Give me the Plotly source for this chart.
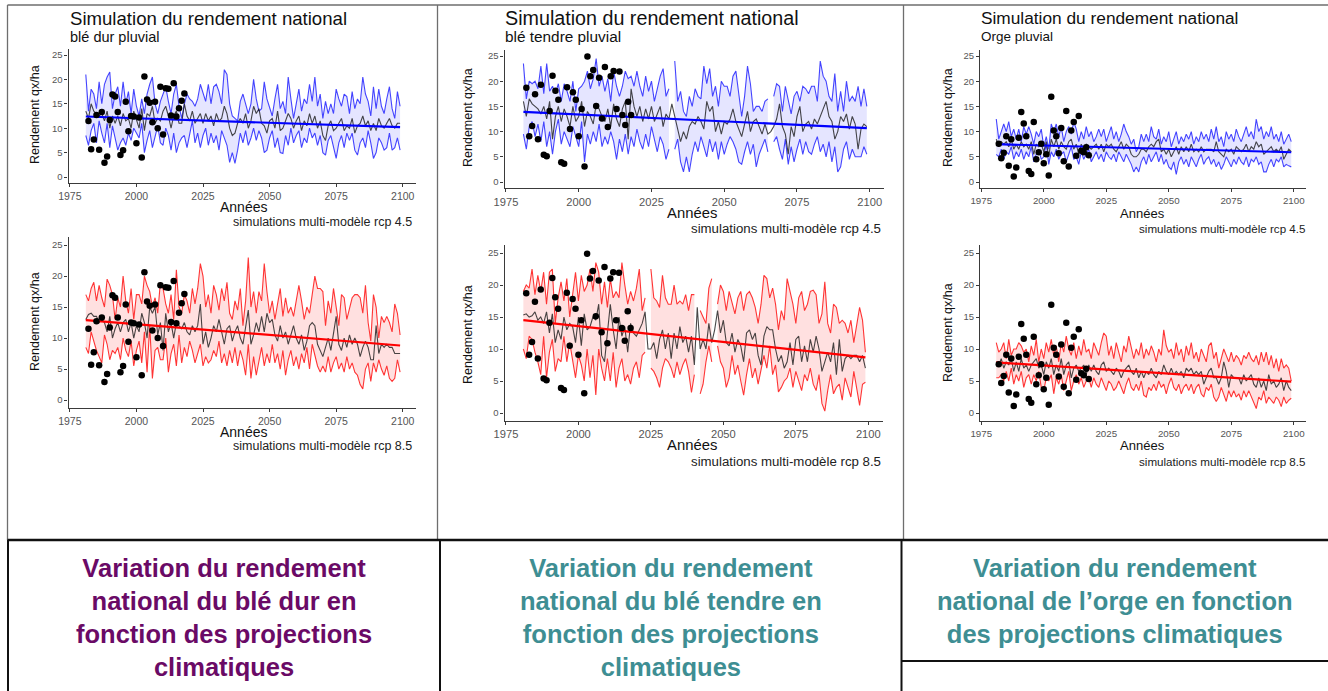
import plotly.graph_objects as go

W, H = 1328, 691

# ---------------- data ----------------
YEARS = list(range(1981, 2100))
OBS_YEARS = list(range(1982, 2019))
TREND_YEARS = [1981, 2099]
X_TICKS = [1975, 2000, 2025, 2050, 2075, 2100]
Y_TICKS = [0, 5, 10, 15, 20, 25]

obs_ble_dur = [11.5, 5.7, 7.7, 12.7, 5.6, 13.3, 2.9, 4.2, 11.7, 16.9,
               16.5, 13.3, 4.5, 5.5, 15.4, 9.4, 12.5, 12.4, 6.9, 12.2,
               4.0, 20.6, 15.9, 15.2, 11.2, 15.4, 10.0, 18.5, 8.7, 18.2,
               18.1, 12.6, 19.2, 12.4, 14.1, 15.6, 17.1]
obs_ble_tendre = [18.7, 9.1, 11.1, 17.4, 8.5, 19.3, 5.4, 5.1, 14.1, 21.1,
                  18.1, 16.3, 3.9, 3.6, 18.8, 10.5, 17.8, 16.3, 9.1, 14.5,
                  3.1, 24.9, 21.0, 22.2, 15.1, 20.7, 12.6, 22.8, 10.9, 21.0,
                  22.0, 14.5, 21.9, 13.3, 11.3, 15.9, 13.3]
obs_orge = [7.6, 4.7, 5.8, 9.1, 3.2, 8.5, 1.1, 2.9, 8.8, 13.9,
            11.6, 9.1, 2.2, 1.6, 11.9, 4.5, 5.9, 7.6, 3.7, 5.5,
            1.3, 16.9, 10.2, 9.1, 5.7, 10.7, 4.1, 14.1, 3.1, 10.2,
            11.9, 5.2, 13.1, 6.2, 5.9, 6.9, 5.3]

# blé dur, rcp 4.5
dur45_hi = [21, 13.5, 18, 17, 14, 19.5, 15, 19, 20.5, 21.5,
            14, 17, 18.5, 14.5, 19.5, 15, 17.5, 13, 18, 14.5,
            12.5, 16, 13, 17, 19, 20.5, 15, 13, 15.5, 17,
            18.5, 15.5, 13, 17, 19, 14.5, 12, 15, 17, 16,
            15.5, 14.5, 16, 19, 17, 15.5, 19, 15, 18.5, 19,
            17.5, 15, 22, 21, 15, 12.5, 12, 11.5, 15.5, 17,
            15, 13, 15, 20, 16, 13.5, 14, 19.5, 16, 14,
            12.5, 16, 19, 14, 15.5, 13, 20.5, 16, 12, 15,
            18, 13.5, 16, 15, 19, 15.5, 20.5, 14.5, 17, 12,
            15.5, 13, 15, 13, 18, 16, 14.5, 17, 16.5, 13,
            17.5, 14, 16, 15, 20.5, 17, 15.5, 12.5, 18.5, 14,
            18, 14.5, 13, 16, 18.5, 14, 12, 17.5, 14.5]
dur45_mid = [13.5, 12, 15, 13.5, 13, 12.5, 13, 11.5, 13.5, 10,
             12.5, 11, 12.5, 10.5, 13, 11.5, 12, 10, 13.5, 11.5,
             10, 14, 9.5, 13, 12.5, 14.5, 11, 12, 11.5, 13.5,
             14.5, 12.5, 10, 12.5, 13.5, 11, 11, 15, 12.5, 11.5,
             13.5, 11, 12, 13, 11, 13, 11.5, 12.5, 10.5, 13,
             11.5, 12, 14.5, 13, 10, 8.5, 9, 11, 12, 11,
             13, 10, 11.5, 14.5, 13, 14, 11, 10.5, 9, 11.5,
             12, 10, 13.5, 9.5, 10, 11.5, 13, 12, 10, 11.5,
             12.5, 9.5, 11.5, 10.5, 13, 11, 12.5, 10, 11.5, 8.5,
             7.5, 10.5, 11.5, 9.5, 10, 11, 12, 9.5, 10.5, 10,
             12, 9, 10.5, 11, 12.5, 10.5, 11.5, 9.5, 11, 9.5,
             12, 10.5, 10, 11, 12, 10.5, 10, 11, 11]
dur45_lo = [8.5, 6.5, 9.5, 11, 7, 11.5, 9, 7, 11, 6,
            10.5, 8, 5.5, 7, 8, 6.5, 9, 7.5, 10, 9,
            8, 11, 5, 7.5, 9.5, 6, 8.5, 10.5, 7, 6.5,
            10, 8.5, 5.5, 9, 5, 7, 8, 8.5, 6, 9,
            11.5, 7, 9, 6, 8.5, 10, 6.5, 9, 7, 8.5,
            5.5, 9.5, 8, 6.5, 3, 5, 2.8, 5.5, 9, 7,
            9.5, 6.5, 8, 10, 7.5, 9.5, 8, 5, 5.5, 8,
            9.5, 6, 8, 5, 4.8, 8.5, 6.5, 10, 7, 8.5,
            9.5, 6, 8, 7, 10, 8, 9, 6.5, 8.5, 5,
            4.5, 7.5, 8.5, 6, 3.8, 7, 8.5, 6, 9, 7.5,
            9, 5.5, 4.5, 7, 8, 6, 9.5, 7, 3.8, 5,
            8, 7, 5.5, 6, 9, 5.5, 6, 8, 5.5]

# blé dur, rcp 8.5
dur85_hi = [17, 16, 18, 19, 16, 18.5, 16.5, 15, 19.5, 18.5,
            17, 13, 16.5, 15, 20, 16, 14, 18, 13, 17,
            17, 15.5, 20, 18.5, 17.5, 15, 16.5, 14, 19, 18,
            15.5, 14, 17, 13, 21, 15, 14, 17, 16, 14,
            18, 15.5, 18, 22, 20, 15, 17, 14, 18.5, 17,
            14.5, 18, 16, 19, 14, 13, 16, 14.5, 18, 12,
            16, 23, 15, 17.5, 14, 17.5, 16, 22, 17.5, 14,
            16, 13, 15.5, 18, 13.5, 16.5, 14, 15, 13.5, 16,
            18.5, 16, 13, 15, 14, 17, 20, 18, 18, 17.5,
            12, 16, 14, 18, 14.5, 12, 17, 16.5, 13, 15,
            16.5, 17, 17, 16.5, 14, 18.5, 12.5, 9.5, 17, 15,
            10, 13.5, 12.5, 13.5, 12.5, 11, 15.5, 14, 10.5]
dur85_mid = [13, 13.8, 14, 13.5, 13.5, 12.5, 13, 12.5, 11, 13.5,
             10, 11.5, 12.5, 11, 12.5, 13, 11, 12.5, 10, 12,
             11, 14, 12.5, 10, 15, 14, 15, 10.5, 12.5, 8,
             14, 11, 12.5, 10, 12.5, 12, 11.5, 12.5, 11, 10.5,
             12, 11, 12, 15.5, 9, 11, 8.5, 10, 12, 11,
             13, 11, 9, 11.5, 12, 9.5, 11, 12, 10, 9,
             11.5, 14.5, 9, 10.5, 12.5, 11, 13.5, 11, 14, 12.5,
             13, 10.5, 9.5, 12, 10, 11, 9, 10.5, 12, 10,
             9, 10.5, 8, 9.5, 12, 12.5, 12, 9, 8, 7,
             8.5, 10, 8, 11, 13.5, 9, 8, 10, 8.5, 10.5,
             9, 10, 9, 7, 8.5, 9.5, 8.5, 6.5, 6.5, 12,
             7.5, 9, 8.5, 9, 8.5, 8.5, 7.5, 7.5, 7.5]
dur85_lo = [8.5, 7.5, 11, 9.5, 8, 7, 6, 10.5, 9, 6.5,
            8, 7.5, 8.5, 6.5, 10, 8, 7, 9.5, 5.5, 8,
            9.5, 6, 11, 4.5, 12, 3.5, 8, 8.5, 6.5, 6.5,
            10, 4.5, 7.5, 9, 5.5, 10.5, 6, 8.5, 7, 9.5,
            8, 6, 7.5, 9, 5.5, 7, 6, 6.5, 8, 7,
            9.5, 6, 7.5, 5.5, 8, 6, 8.5, 5.5, 8, 6.5,
            4, 9, 3.5, 7, 4, 6, 8.5, 5.5, 7.5, 6,
            9, 6, 7.5, 5, 8, 4, 6.5, 8, 5.5, 7,
            5, 7.5, 6, 8.5, 5, 9, 7, 5.5, 4.5, 5.5,
            4.5, 7, 4.5, 6, 7, 5, 6, 4.5, 7, 5,
            6, 4.5, 4, 2.5, 1.8, 5, 6, 3, 6, 4.5,
            6.5, 5, 4, 5.5, 3.5, 3, 3.5, 6.5, 4.5]

# blé tendre, rcp 4.5 (None = missing)
tend45_hi = [23.5, 16.5, 20, 19.5, 20, 18.5, 23, 17.5, 23.5, 18,
             19, 17.5, 19.5, 16, 19.5, 18, 16, 20, 14, 18.5,
             19, 20, 22, 18.5, 20.5, 24.5, 19, 21, 18, 20.5,
             16, 22, 19, 17, 19, 22, 20.5, 21, 19, 22,
             19, 17, 21, 18, 20, 16, 18.5, 21, 22.5, 17,
             18.5, None, 24, 16, 18, 14, 13, 17, 15, 18.5,
             17, 16.5, 23, 19.5, 22.5, 17, 19, 15, 20, 19,
             19, 17, 21, 22, 17.5, 13, 17, 23, 19.5, 14,
             15, 15, 14, 16, 16.5, None, 17, 19.5, 19, 14,
             19, 16.5, 13.5, 17, 18, 16, 19, 18.5, 17.5, 19,
             19, 16, 24, 21, 20, 17, 16, 21.5, 14, 18,
             14, 20, 16, 17, 16, 19, 15, 18.5, 15]
tend45_mid = [16, 13, 16.5, 15.5, 15, 14.5, 13.5, 15, 12.5, 16,
              8.5, 13, 15, 12, 14.5, 13, 11, 15, 12, 13,
              16, 11, 14, 13, 11.5, 15.5, 14.5, 13, 12, 14.5,
              11, 15.5, 12.5, 11, 14.5, 16, 8.5, 18.5, 15, 13,
              15, 12, 14.5, 12.5, 15, 12, 13.5, 15, 11, 13.5,
              12.5, 15.5, 13, 10.5, 8, 10, 8.5, 11, 12, 11.5,
              13, 12, 10.5, 16, 14, 15, 10, 12, 9.5, 12,
              11.5, 12.5, 14.5, 12, 10.5, 9, 11.5, 14, 10, 12,
              12.5, 11, 9.5, 11.5, 9.5, 10, 11, 12.5, 15.5, 11,
              9.5, 5.5, 11, 9, 13, 15, 10, 11.5, 12, 10.5,
              12.5, 11.5, 13, 14.5, 16, 13, 12, 8.5, 10, 13,
              12, 13.5, 10.5, 13, 11.5, 6.5, 10.5, 11.5, 11]
tend45_lo = [9.5, 6.5, 11, 12, 9, 11.5, 8, 12, 7, 10,
             5.5, 10, 12.5, 7.5, 10, 8.5, 7, 11, 9, 7,
             12, 4, 9.5, 7.5, 10, 8, 11.5, 7, 9, 7.5,
             10, 8, 4.5, 8.5, 6, 9.5, 5.5, 9, 7, 10.5,
             8, 6.5, 9.5, 7, 11, 8.5, 6, 9, 7.5, 4.5,
             6.5, None, 6.5, 8.5, 4, 2, 5, 2, 5.5, 8,
             6, 9, 7, 5, 8.5, 6, 8, 4.5, 8, 5.5,
             7.5, 9, 8, 6.5, 4, 3.5, 6, 8, 5.5, 7.5,
             3, 5.5, 7, 8.5, 6, None, 8, 9, 6.5, 4.5,
             8.5, 3.5, 7, 4, 6.5, 8.5, 5.5, 8, 6, 5.5,
             7.5, 9, 6, 7.5, 5, 8, 4, 7, 2, 3,
             6.5, 8, 4.5, 6.5, 5, 5, 5, 7, 5.5]

# blé tendre, rcp 8.5 (None = missing)
tend85_hi = [19, 20, 19.5, 22.5, 18.5, 21.5, 19, 22, 17, 22,
             22.5, 14, 18, 20.5, 17.5, 21, 15, 18.5, 22, 17.5,
             21.5, 19, 20, 22.5, 19, 23.5, 22, 17, 20.5, 16.5,
             21, 18, 19, 18, 23.5, 20, 17, 19, 17.5, 19.5,
             22.5, 16, 18, None, 22.5, 18, 17.5, 16.5, 21.5, 18,
             17, 17, 20, 17, 17.5, 17, 18.5, 16, 18.5, 18.5,
             None, 16, 15, 14, 19.5, 21, None, 17, 20, 19,
             16, 19, 17, 15.5, 18, 19, 16, 18.5, 19, 18,
             16.5, 14, 17, 21.5, 21, 18, 19.5, 17, 13, 16,
             14.5, 21, 19, 17, 14, 18, 19, 16, 17, 19,
             19.2, 18.5, 14, 15.5, 20.5, 14, 12.5, 17, 16.5, 14,
             14.5, 14, 12.5, 14.5, 11, 14, 16.5, 14.5, 9.5]
tend85_mid = [15.3, 15.5, 15, 15.2, 15.8, 14.5, 15, 14, 15.8, 12.5,
              15.5, 11, 13, 11.5, 15, 13, 14, 13.5, 11, 15,
              10.5, 15.5, 13, 13.5, 15, 14.5, 17, 9, 8, 12,
              17, 13, 10, 15, 12, 13.5, 9.5, 14, 12.5, 12,
              13, 14, 15.8, 10, 10, 11, 8.5, 11.5, 13, 10,
              12.5, 8.5, 12.5, 10, 13.5, 11, 12, 9.5, 12, 7.5,
              16.5, 10, 11.5, 10, 14, 11, 13, 16, 12.5, 14.5,
              11, 10.5, 12.5, 9.5, 11.5, 10.5, 8, 12.5, 13, 11.5,
              12.5, 9, 7.5, 12, 13.5, 13, 13, 10, 8, 9,
              7, 8, 11, 7.5, 11.5, 12, 8, 10.5, 8, 11.5,
              9.5, 12, 10, 6.5, 8, 9.5, 8, 11, 6, 11.5,
              6.5, 8.5, 9, 8.5, 9, 9, 8, 9, 7]
tend85_lo = [10, 8.5, 12, 11.5, 9.5, 8, 6, 12, 5.5, 9.5,
             11.5, 6.5, 8.5, 8, 12, 8, 11, 8.5, 5.5, 9,
             7.5, 5, 10, 5.5, 9, 2.8, 10, 7, 5, 8.5,
             5, 9.5, 4, 7, 8.5, 5, 6, 4.5, 7, 8,
             5.5, 9, 9.5, None, 7, 6.5, 5.5, 4, 7, 8.5,
             8, 7, 5.5, 8, 6, 7.5, 8.5, 6.5, 3.2, 6,
             None, 3, 4.5, 8, 10.5, 8, None, 10.5, 8, 7,
             4, 5.5, 9, 6, 7.5, 5, 2.8, 6, 8.5, 5.5,
             7, 4.5, 6.5, 9, 7, 10.5, 6, 7.5, 3.3, 4,
             5, 5.5, 7, 4, 6.5, 5, 3.5, 6, 5, 7,
             4.5, 3.5, 6, 1.5, 0.3, 3.5, 6, 3, 4, 4.5,
             2, 5.5, 4, 2.5, 6.5, 4, 1.2, 4.5, 4.8]

# orge, rcp 4.5
orge45_hi = [12.5, 8.5, 10, 11.5, 10, 12, 9, 10.5, 8.5, 10.5,
             8, 11, 9.5, 11, 9.5, 7.5, 10, 9, 10.5, 7,
             9, 6.5, 11.5, 10, 11.5, 9, 11, 8, 10, 11,
             9.5, 12, 10.5, 8, 10, 8.5, 11, 9, 10, 8,
             9, 10.5, 9, 10.5, 8, 9.5, 11, 8.5, 10, 8,
             9.5, 11.5, 10, 9, 7.5, 8.5, 6, 7, 9.5, 8,
             9.5, 8, 11, 9, 8.5, 10.5, 7.5, 9, 8, 10,
             7, 8.5, 10, 7.5, 9, 8, 9.5, 8.5, 10, 7.5,
             9, 8, 10, 8.5, 9.5, 8, 10.5, 8.5, 11, 8,
             9, 7, 10, 8.5, 9.5, 8, 10.5, 9, 8, 9.5,
             11, 9, 10, 8.5, 12.5, 10, 11, 8.5, 10, 9,
             11, 8.5, 9.5, 8, 10, 7.5, 8.5, 9.5, 8]
orge45_mid = [8.5, 7, 8, 7.5, 8, 7, 8.5, 6.5, 7.5, 6.5,
              8, 7, 7.5, 6.5, 8, 5.5, 7.5, 7, 7.5, 6,
              8, 5, 8.5, 7, 8.5, 6.5, 8, 7, 6.5, 8,
              8.5, 6.5, 7.5, 5.5, 7.5, 6.5, 7.5, 7, 6.5, 7,
              7.5, 6.5, 7.5, 6, 7.5, 7, 7.5, 6.5, 6, 7,
              8, 6.5, 7.5, 7, 5.5, 5, 5, 5.5, 6.5, 6.5,
              6, 7, 7.5, 7, 8, 8.5, 6, 6.5, 5.5, 6.5,
              5, 6, 7, 5.5, 7, 6, 7, 6, 7.5, 6,
              6.5, 6, 7, 6, 6.5, 6.5, 6.5, 6, 8, 6,
              5.5, 5, 6.5, 6, 6.5, 5.5, 7, 6.5, 6, 6.5,
              7.5, 6, 7, 6.5, 8, 7, 7.5, 5.5, 6, 6.5,
              7, 6, 6.5, 6, 7, 4.5, 5.5, 6.5, 6]
orge45_lo = [5.5, 5, 6.5, 4.5, 6, 5.5, 7, 4.5, 6, 5,
             6.5, 4.5, 6, 5, 7, 4, 5.5, 6.5, 4.5, 5,
             7.5, 3.5, 6, 5, 6.5, 4.5, 5.5, 6, 4, 5.5,
             7, 4.5, 5, 3.5, 6, 4.5, 5.5, 6.5, 4, 5,
             6, 4.5, 5.5, 4, 6, 5, 4.5, 5.5, 4, 6,
             5, 4, 5.5, 4.5, 3.5, 2, 3, 2, 4, 5,
             3.5, 5.5, 4, 5, 6, 4, 5.5, 3.5, 4.5, 3,
             2.5, 4, 1.5, 4, 5, 3.5, 4.5, 3, 5, 4,
             3, 4.5, 5.5, 3.5, 4.5, 5, 3.5, 4.5, 3, 4,
             2.5, 3.5, 5, 4, 3, 4.5, 3.5, 5, 4, 3.5,
             5, 3, 4.5, 4, 5, 3.5, 4, 2, 2, 3.5,
             4.5, 3, 4.5, 4, 5, 3, 3.5, 3.2, 3]

# orge, rcp 8.5
orge85_hi = [11, 9.5, 10, 11, 8.5, 11.5, 9, 10, 10, 11,
             10.5, 9.5, 10, 8, 10.5, 9, 11.5, 8, 10, 8.5,
             11, 9.5, 11.5, 9, 10.5, 8, 11, 9.5, 12, 10,
             9, 11, 8.5, 10.5, 9, 11.5, 9.5, 10, 8.5, 11,
             10, 9, 11, 12.5, 12, 9, 10.5, 8.5, 11, 9.5,
             8, 10.5, 9.5, 12, 10, 8.5, 10, 9, 11, 8.5,
             10, 9, 10.5, 9.5, 8, 10, 9, 13, 10.5, 9.5,
             10, 8.5, 11, 9, 10, 8, 10.5, 9, 11, 8.5,
             9.5, 8, 10, 9, 8, 10.5, 11, 8.5, 9.5, 7,
             8.5, 10, 9, 8, 9.5, 8, 9, 8.5, 7.5, 9,
             8.5, 9.5, 8.5, 8, 9, 7.5, 9.5, 8, 9.5, 7.5,
             9, 7, 8.5, 6.5, 8.5, 7, 7.5, 7, 5]
orge85_mid = [8, 7.5, 8.5, 7, 8, 7.5, 8.5, 6.5, 8, 6.5,
              8.5, 7, 7.5, 6.5, 7.5, 8, 8.5, 7, 7.5, 6,
              8, 7, 8.5, 6, 7.5, 6.5, 8.5, 6, 7.5, 8,
              5.5, 7, 7.5, 6.5, 7, 7.5, 6, 7.5, 6.5, 7.5,
              6.5, 6, 7.5, 8, 6.5, 7, 6.5, 6, 7, 6.5,
              5.5, 6.5, 7, 7.5, 6.5, 6, 7, 5.5, 6.5, 5.5,
              6.5, 6, 7, 6, 5.5, 6.5, 6, 7.5, 6.5, 6,
              7, 6, 6.5, 6, 6.5, 5.5, 7, 6.5, 7, 6,
              6.5, 6, 6.5, 4.5, 5.5, 6.5, 7, 5.5, 5.5, 4.5,
              5.5, 8, 6.5, 4, 6, 5.5, 5.5, 5.5, 4.5, 6,
              5, 5.5, 6, 4.5, 4, 5.5, 4, 5, 3.5, 6,
              4.5, 5, 4, 4.5, 5.5, 3.5, 5, 4, 3.5]
orge85_lo = [5.5, 5.5, 6, 5, 6.5, 5, 7, 4.5, 6, 5,
             6.5, 4, 5.5, 6, 4.5, 6, 5, 6.5, 4, 3.5,
             5.5, 5, 6, 3, 5.5, 4.5, 6, 3.5, 5, 6.5,
             3.5, 5, 6, 4.5, 5.5, 4, 5, 5.5, 4, 5.5,
             4.5, 4, 5.5, 4.5, 3.5, 5, 4.5, 3.5, 4, 5,
             4, 3, 4.5, 5.5, 4, 3.5, 4.5, 3.5, 5, 2.8,
             2.5, 4, 3.5, 4.5, 3.5, 5, 4, 4.5, 3, 4.5,
             5.5, 4, 3.5, 4.5, 3, 4, 4.5, 3.5, 4.5, 3,
             4, 4.5, 3, 2.5, 4, 3.5, 4.5, 2.5, 1.8, 2.5,
             4, 3, 1.8, 3.5, 2.5, 3.5, 2.5, 3, 2, 3.5,
             2.5, 3.5, 2.5, 1.5, 0.7, 2.5, 2, 3.5, 1.5, 2.5,
             2, 1.5, 2.5, 2, 1, 2.5, 1.5, 2, 2.3]

trend_dur45 = [12.4, 10.2]
trend_dur85 = [12.9, 8.8]
trend_tend45 = [13.9, 10.7]
trend_tend85 = [14.5, 8.7]
trend_orge45 = [7.5, 5.9]
trend_orge85 = [7.9, 4.9]

TITLE = "Simulation du rendement national"
SUBTITLES = ["blé dur pluvial", "blé tendre pluvial", "Orge pluvial"]
SCENARIOS = ["simulations multi-modèle rcp 4.5", "simulations multi-modèle rcp 8.5"]
CAPTIONS = [
    "Variation du rendement<br>national du blé dur en<br>fonction des projections<br>climatiques",
    "Variation du rendement<br>national du blé tendre en<br>fonction des projections<br>climatiques",
    "Variation du rendement<br>national de l’orge en fonction<br>des projections climatiques",
]

# ---------------- styling / layout helpers ----------------
def fx(px):
    return px / W

def fy(py):
    return 1 - py / H

STYLE = {
    "blue": dict(line="rgba(0,0,255,0.72)", fill="rgba(0,0,255,0.10)", trend="#0000FF"),
    "red": dict(line="rgba(255,0,0,0.78)", fill="rgba(255,0,0,0.12)", trend="#FF0000"),
}

# pixel boxes of each plotting area: (left, right, top, bottom)
panels = [
    dict(col=0, row=0, hi=dur45_hi, mid=dur45_mid, lo=dur45_lo, trend=trend_dur45, obs=obs_ble_dur,
         color="blue", box=(68.5, 415.8, 48.9, 183.1)),
    dict(col=0, row=1, hi=dur85_hi, mid=dur85_mid, lo=dur85_lo, trend=trend_dur85, obs=obs_ble_dur,
         color="red", box=(68.5, 415.8, 237.3, 407.8)),
    dict(col=1, row=0, hi=tend45_hi, mid=tend45_mid, lo=tend45_lo, trend=trend_tend45, obs=obs_ble_tendre,
         color="blue", box=(504.5, 884.0, 49.7, 188.3)),
    dict(col=1, row=1, hi=tend85_hi, mid=tend85_mid, lo=tend85_lo, trend=trend_tend85, obs=obs_ble_tendre,
         color="red", box=(504.5, 882.5, 245.0, 421.0)),
    dict(col=2, row=0, hi=orge45_hi, mid=orge45_mid, lo=orge45_lo, trend=trend_orge45, obs=obs_orge,
         color="blue", box=(980.0, 1306.0, 49.7, 188.3)),
    dict(col=2, row=1, hi=orge85_hi, mid=orge85_mid, lo=orge85_lo, trend=trend_orge85, obs=obs_orge,
         color="red", box=(980.0, 1306.0, 245.0, 421.0)),
]
X_RANGE = [1974.5, 2104.9]

COL_SCALE = [1.0, 1.06, 0.93]
COL_TEXT = [
    dict(title_x=68, annees_x=243, cap_x=414, ytitle_x=35),
    dict(title_x=503, annees_x=692, cap_x=883, ytitle_x=468),
    dict(title_x=979, annees_x=1142, cap_x=1307, ytitle_x=948),
]
ROW_TEXT = [
    [dict(annees_y=207, cap_y=222, ytitle_y=115), dict(annees_y=432, cap_y=446, ytitle_y=322)],
    [dict(annees_y=213, cap_y=229, ytitle_y=118), dict(annees_y=445, cap_y=461, ytitle_y=335)],
    [dict(annees_y=213, cap_y=229, ytitle_y=118), dict(annees_y=445, cap_y=461, ytitle_y=333)],
]

FONT = "Liberation Sans, Arial, Helvetica, sans-serif"

fig = go.Figure()
layout_axes = {}
annotations = []

for i, p in enumerate(panels, start=1):
    xa = "x" if i == 1 else f"x{i}"
    ya = "y" if i == 1 else f"y{i}"
    st = STYLE[p["color"]]
    s = COL_SCALE[p["col"]]

    segs, cur = [], []
    for yr, h, l in zip(YEARS, p["hi"], p["lo"]):
        if h is None or l is None:
            if cur:
                segs.append(cur)
            cur = []
        else:
            cur.append((yr, h, l))
    if cur:
        segs.append(cur)
    for seg in segs:
        xs = [t[0] for t in seg]
        fig.add_trace(go.Scatter(
            x=xs + xs[::-1],
            y=[t[1] for t in seg] + [t[2] for t in seg][::-1],
            fill="toself", fillcolor=st["fill"], line=dict(width=0),
            mode="lines", hoverinfo="skip", showlegend=False, xaxis=xa, yaxis=ya))

    for series in (p["hi"], p["lo"]):
        fig.add_trace(go.Scatter(x=YEARS, y=series, mode="lines",
                                 line=dict(color=st["line"], width=1.1),
                                 showlegend=False, xaxis=xa, yaxis=ya))
    fig.add_trace(go.Scatter(x=YEARS, y=p["mid"], mode="lines",
                             line=dict(color="rgba(20,20,20,0.78)", width=1.1),
                             showlegend=False, xaxis=xa, yaxis=ya))
    fig.add_trace(go.Scatter(x=TREND_YEARS, y=p["trend"], mode="lines",
                             line=dict(color=st["trend"], width=2.2),
                             showlegend=False, xaxis=xa, yaxis=ya))
    fig.add_trace(go.Scatter(x=OBS_YEARS, y=p["obs"], mode="markers",
                             marker=dict(color="black", size=6.5),
                             showlegend=False, xaxis=xa, yaxis=ya))

    l, r, t, b = p["box"]
    axis_common = dict(showgrid=False, zeroline=False, showline=True, linecolor="#3a3a3a",
                       linewidth=1.2, ticks="outside", ticklen=3, tickcolor="#3a3a3a",
                       tickwidth=1, automargin=False,
                       tickfont=dict(family=FONT, size=10.5 * s, color="#555555"))
    layout_axes["xaxis" if i == 1 else f"xaxis{i}"] = dict(
        axis_common, domain=[fx(l), fx(r)], range=X_RANGE,
        tickvals=X_TICKS, anchor=ya)
    layout_axes["yaxis" if i == 1 else f"yaxis{i}"] = dict(
        axis_common, domain=[fy(b), fy(t)], range=[-1.25, 26.25],
        tickvals=Y_TICKS, anchor=xa,
        tickfont=dict(family=FONT, size=9.5, color="#555555"))

    ct = COL_TEXT[p["col"]]
    rt = ROW_TEXT[p["col"]][p["row"]]
    annotations.append(dict(text="Années", x=fx(ct["annees_x"]), y=fy(rt["annees_y"]),
                            xref="paper", yref="paper", showarrow=False,
                            xanchor="center", yanchor="middle",
                            font=dict(family=FONT, size=14 * s, color="#111111")))
    annotations.append(dict(text=SCENARIOS[p["row"]], x=fx(ct["cap_x"]), y=fy(rt["cap_y"]),
                            xref="paper", yref="paper", showarrow=False,
                            xanchor="right", yanchor="middle",
                            font=dict(family=FONT, size=12.5 * s, color="#222222")))
    annotations.append(dict(text="Rendement qx/ha", x=fx(ct["ytitle_x"]), y=fy(rt["ytitle_y"]),
                            xref="paper", yref="paper", showarrow=False, textangle=-90,
                            xanchor="center", yanchor="middle",
                            font=dict(family="Liberation Sans Narrow, Arial Narrow, Liberation Sans, Arial",
                                      size=12.5, color="#111111")))
    if p["row"] == 0:
        annotations.append(dict(text=TITLE, x=fx(ct["title_x"]), y=fy(18),
                                xref="paper", yref="paper", showarrow=False,
                                xanchor="left", yanchor="middle",
                                font=dict(family=FONT, size=18.6 * s, color="#111111")))
        annotations.append(dict(text=SUBTITLES[p["col"]], x=fx(ct["title_x"]), y=fy(37),
                                xref="paper", yref="paper", showarrow=False,
                                xanchor="left", yanchor="middle",
                                font=dict(family=FONT, size=14.5 * s, color="#111111")))

CAP_COLORS = ["#6A0A66", "#3E8E93", "#3E8E93"]
CAP_X = [224, 671, 1115]
CAP_Y = [617, 617, 601]
for txt, c, cx, cy in zip(CAPTIONS, CAP_COLORS, CAP_X, CAP_Y):
    annotations.append(dict(text=f"<b>{txt}</b>", x=fx(cx), y=fy(cy), xref="paper", yref="paper",
                            showarrow=False, xanchor="center", yanchor="middle", align="center",
                            font=dict(family=FONT, size=25.5, color=c)))

def hline(y, x0, x1, color, w):
    return dict(type="line", xref="paper", yref="paper", x0=fx(x0), x1=fx(x1), y0=fy(y), y1=fy(y),
                line=dict(color=color, width=w))

def vline(x, y0, y1, color, w):
    return dict(type="line", xref="paper", yref="paper", x0=fx(x), x1=fx(x), y0=fy(y0), y1=fy(y1),
                line=dict(color=color, width=w))

GRAY = "#6e6e6e"
shapes = [
    hline(5, 7.5, 1328, GRAY, 1.5),
    vline(7.5, 5, 540, GRAY, 1.3),
    vline(437.5, 5, 540, GRAY, 1.3),
    vline(903.5, 5, 540, GRAY, 1.3),
    hline(540, 7.5, 1328, "#111111", 2.5),
    vline(8, 540, 691, "#111111", 2),
    vline(440, 540, 691, "#111111", 2),
    vline(901.5, 540, 691, "#111111", 2),
    hline(661, 901.5, 1328, "#111111", 2),
]

fig.update_layout(
    width=W, height=H, margin=dict(l=0, r=0, t=0, b=0, pad=0, autoexpand=False), autosize=False,
    paper_bgcolor="white", plot_bgcolor="white", showlegend=False,
    annotations=annotations, shapes=shapes, **layout_axes)

POST = (
    "document.documentElement.style.margin='0';"
    "document.body.style.margin='0';document.body.style.padding='0';"
    "document.body.style.overflow='hidden';"
    "var g=document.getElementById('{plot_id}');"
    "g.style.position='absolute';g.style.left='0px';g.style.top='0px';"
)

fig.write_html("out.html", post_script=POST,
               config={"displayModeBar": False, "responsive": False})
